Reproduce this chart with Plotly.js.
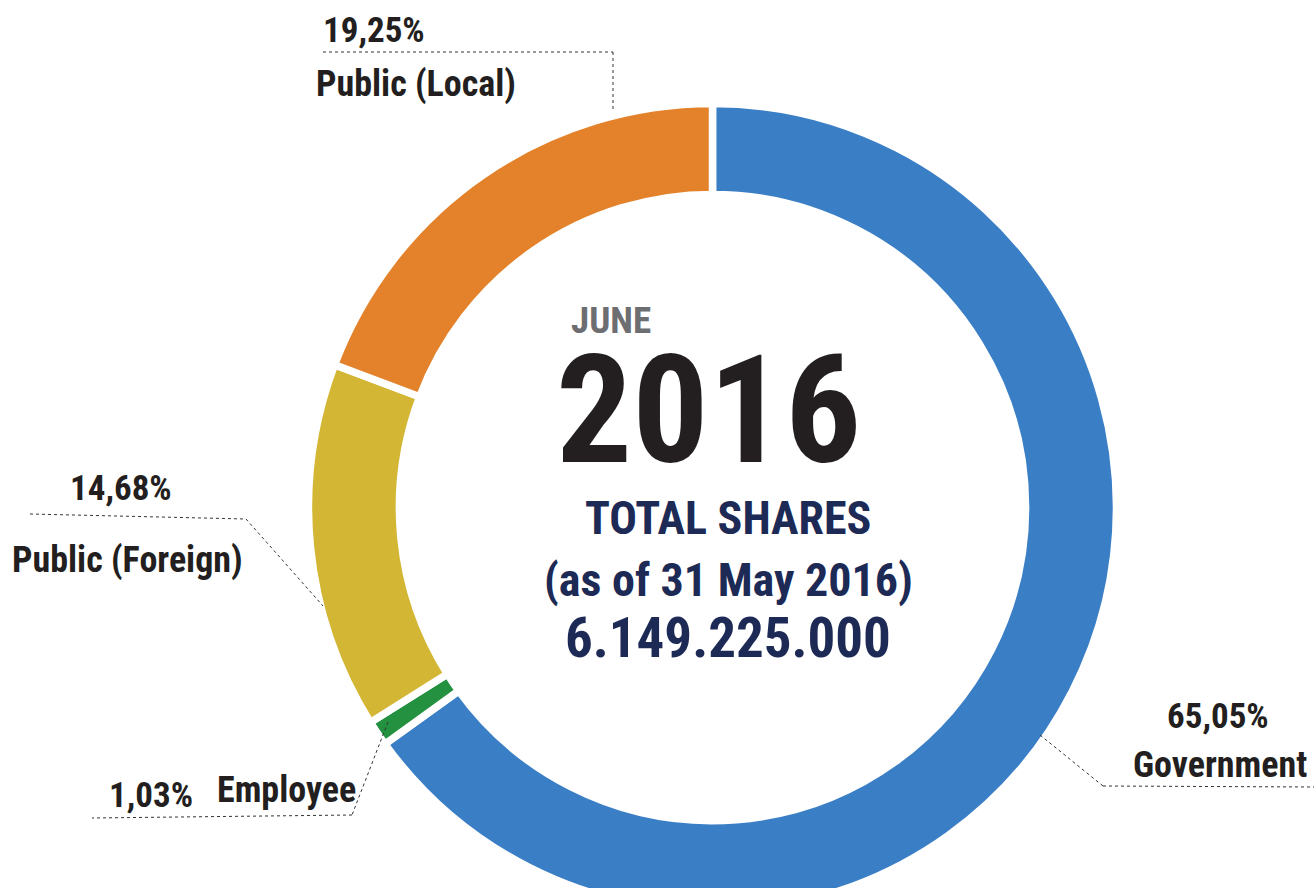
<!DOCTYPE html>
<html><head><meta charset="utf-8">
<script src="https://cdn.plot.ly/plotly-3.0.1.min.js"></script>
<style>html,body{margin:0;padding:0;overflow:hidden;background:#fff}#chart{width:1314px;height:920px}</style>
</head><body><div id="chart"></div>
<script>
const categories = ["Government", "Employee", "Public (Foreign)", "Public (Local)"];
const shares = [65.05, 1.03, 14.68, 19.25];
const pctLabels = ["65,05%", "1,03%", "14,68%", "19,25%"];
const sliceColors = ["#3a7fc6", "#23913f", "#d3b633", "#e3822a"];
const centerLines = ["JUNE", "2016", "TOTAL SHARES", "(as of 31 May 2016)", "6.149.225.000"];

const W = 1314, H = 920;
const px = x => x / W, py = y => 1 - y / H;
const FONT = "'Liberation Sans Narrow', 'Roboto Condensed', 'Arial Narrow', 'Liberation Sans', sans-serif";

const cx = 712.5, cy = 507.5, R = 404;

const trace = {
  type: "pie",
  labels: categories,
  values: shares,
  sort: false,
  direction: "clockwise",
  rotation: 0,
  hole: 0.775,
  textinfo: "none",
  hoverinfo: "label+percent",
  marker: { colors: sliceColors, line: { color: "#ffffff", width: 7.5 } },
  domain: { x: [px(cx - R), px(cx + R)], y: [py(cy + R), py(cy - R)] },
  showlegend: false
};

function ann(text, x, y, size, color, xanchor) {
  return { text: text, x: px(x), y: py(y), xref: "paper", yref: "paper",
    xanchor: xanchor || "center", yanchor: "middle", showarrow: false,
    font: { family: FONT, size: size, color: color, weight: 700 } };
}

const annotations = [
  ann(pctLabels[3], 374, 30, 35, "#231f20"),
  ann(categories[3], 416, 84, 36, "#231f20"),
  ann(pctLabels[2], 121, 488, 35, "#231f20"),
  ann(categories[2], 127, 560, 36, "#231f20"),
  ann(pctLabels[1], 151, 795, 35, "#231f20"),
  ann(categories[1], 286, 790, 36, "#231f20"),
  ann(pctLabels[0], 1218, 716, 35, "#231f20"),
  ann(categories[0], 1220, 765, 36, "#231f20"),
  ann(centerLines[0], 611, 321, 37, "#6d6e71"),
  ann(centerLines[1], 708, 410, 151, "#231f20"),
  ann(centerLines[2], 728, 518, 46, "#1c2a55"),
  ann(centerLines[3], 728, 580, 46, "#1c2a55"),
  ann(centerLines[4], 728, 638, 55, "#1c2a55")
];

function seg(x0, y0, x1, y1) {
  return { type: "line", xref: "paper", yref: "paper", x0: px(x0), y0: py(y0), x1: px(x1), y1: py(y1),
    line: { color: "#333333", width: 1, dash: "dot" } };
}
const shapes = [
  seg(323, 52, 613, 52), seg(613, 52, 613, 112),
  seg(30, 514, 246, 519), seg(246, 519, 323, 606),
  seg(388, 722, 352, 815), seg(352, 815, 92, 818),
  seg(1040, 735, 1103, 786), seg(1103, 786, 1314, 787)
];

Plotly.newPlot("chart", [trace], {
  width: W, height: H,
  margin: { l: 0, r: 0, t: 0, b: 0 },
  paper_bgcolor: "#ffffff",
  annotations: annotations,
  shapes: shapes
}, { displayModeBar: false, staticPlot: true });
</script></body></html>
